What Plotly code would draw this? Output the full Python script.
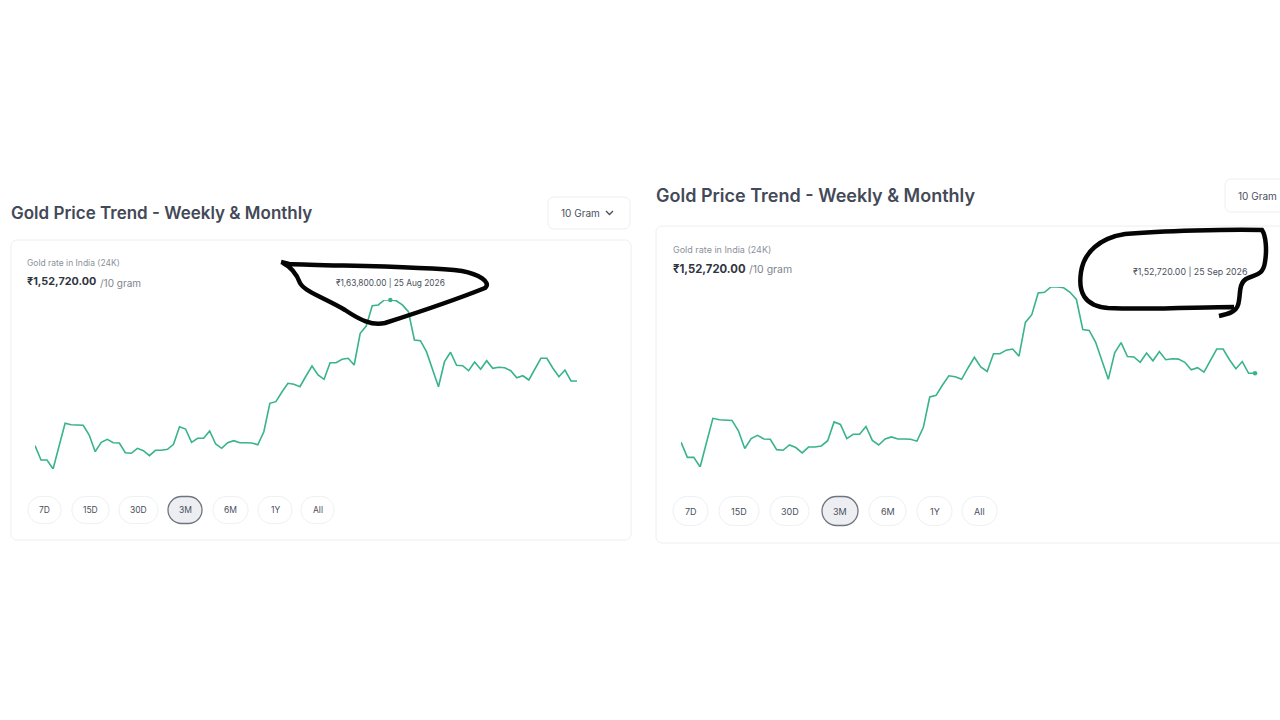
import plotly.graph_objects as go
import pandas as pd

W, H = 1280, 720

# ---- data (daily 24K gold rate, INR per 10 gram) ----
end_date = "2026-09-25"
prices = [143870, 141910, 141910, 140680, 143830, 146930, 146740, 146700, 146660, 145330,
          143050, 144330, 144740, 144280, 144240, 142910, 142830, 143510, 143180, 142500,
          143240, 143240, 143380, 144060, 146470, 146150, 144330, 144880, 144880, 145880,
          144100, 143510, 144280, 144550, 144280, 144270, 144240, 144000, 145780, 149670,
          149890, 151210, 152400, 152270, 151940, 153400, 154770, 153540, 152950, 155220,
          155220, 155690, 155830, 154910, 159250, 160240, 163020, 163120, 163800, 163800,
          163700, 163120, 162200, 158330, 158230, 156730, 154220, 151940, 155360, 156650,
          154870, 154810, 154130, 155320, 154320, 155500, 154460, 154590, 154540, 154130,
          153170, 153440, 152860, 154320, 155830, 155830, 154460, 153310, 154220, 152720,
          152720]
dates = list(pd.date_range(end=end_date, periods=len(prices), freq="D"))
hover_left = pd.Timestamp("2026-08-25")
hover_right = pd.Timestamp(end_date)
range_buttons = ["7D", "15D", "30D", "3M", "6M", "1Y", "All"]
selected_range = "3M"
title_text = "Gold Price Trend - Weekly & Monthly"
subtitle_text = "Gold rate in India (24K)"
unit_text = "/10 gram"
dropdown_text = "10 Gram"

LINE = "#38b38d"
FONT = "Inter"


def inr(v):
    s = f"{v:.2f}"
    whole, frac = s.split(".")
    last3, rest = whole[-3:], whole[:-3]
    groups = []
    while len(rest) > 2:
        groups.insert(0, rest[-2:])
        rest = rest[:-2]
    if rest:
        groups.insert(0, rest)
    return ",".join(groups + [last3]) + "." + frac


def px(x):
    return x / W


def py(y):
    return 1 - y / H


def rrect(x0, y0, x1, y1, r):
    k = 0.5523 * r
    pts = [
        f"M{px(x0 + r)},{py(y0)}", f"L{px(x1 - r)},{py(y0)}",
        f"C{px(x1 - r + k)},{py(y0)} {px(x1)},{py(y0 + r - k)} {px(x1)},{py(y0 + r)}",
        f"L{px(x1)},{py(y1 - r)}",
        f"C{px(x1)},{py(y1 - r + k)} {px(x1 - r + k)},{py(y1)} {px(x1 - r)},{py(y1)}",
        f"L{px(x0 + r)},{py(y1)}",
        f"C{px(x0 + r - k)},{py(y1)} {px(x0)},{py(y1 - r + k)} {px(x0)},{py(y1 - r)}",
        f"L{px(x0)},{py(y0 + r)}",
        f"C{px(x0)},{py(y0 + r - k)} {px(x0 + r - k)},{py(y0)} {px(x0 + r)},{py(y0)}", "Z",
    ]
    return " ".join(pts)


def path_px(cmds):
    out = []
    for c in cmds:
        op, *pts = c
        out.append(op + " ".join(f"{px(a)},{py(b)}" for a, b in pts))
    return " ".join(out)


shapes = []
annotations = []


def add_rect(x0, y0, x1, y1, r, line="#eceef1", fill="white", width=1):
    shapes.append(dict(type="path", path=rrect(x0, y0, x1, y1, r), xref="paper", yref="paper",
                       line=dict(color=line, width=width), fillcolor=fill, layer="below"))


def add_text(x, y, text, size, color, weight="normal", xanchor="left", xref="paper"):
    annotations.append(dict(x=x if xref != "paper" else px(x), y=py(y), xref=xref, yref="paper",
                            text=text, showarrow=False, xanchor=xanchor, yanchor="middle",
                            xshift=-2 if xanchor == "left" else 0,
                            font=dict(family=FONT, size=size, color=color, weight=weight)))


fig = go.Figure()

panels = [
    dict(xa="x", ya="y", xd=(35, 577), yd=(300, 469), hover=hover_left, title=(11, 213, 17),
         dd=(548, 197, 630, 229), card=(11, 240, 631, 540), sub=(27, 263, 8.5), price=(27, 282, 10.8),
         unit_x=100, unit_size=10, label_y=283, label_size=8.3, cross=(290, 476), label_anchor="center",
         pills=[(28, 61), (72, 109), (119, 158), (168, 202), (213, 248), (258, 292), (301, 334)],
         pill_y=510, pill_h=27, pill_font=8.5),
    dict(xa="x2", ya="y2", xd=(681, 1255), yd=(287, 467), hover=hover_right, title=(656, 196, 18),
         dd=(1225, 179, 1300, 212), card=(656, 226, 1300, 543), sub=(673, 249, 9), price=(673, 269, 11.3),
         unit_x=749, unit_size=10.5, label_y=271, label_size=8.8, cross=(279, 476), label_anchor="right",
         pills=[(673, 708), (719, 759), (770, 809), (822, 858), (869, 906), (917, 952), (962, 997)],
         pill_y=511, pill_h=29, pill_font=9),
]

layout_axes = {}
for i, p in enumerate(panels):
    xname = "xaxis" if i == 0 else f"xaxis{i + 1}"
    yname = "yaxis" if i == 0 else f"yaxis{i + 1}"
    layout_axes[xname] = dict(domain=[px(p["xd"][0]), px(p["xd"][1])], range=[dates[0], dates[-1]],
                              visible=False, anchor=p["ya"], fixedrange=True)
    layout_axes[yname] = dict(domain=[py(p["yd"][1]), py(p["yd"][0])], range=[min(prices), max(prices)],
                              visible=False, anchor=p["xa"], fixedrange=True)

    fig.add_trace(go.Scatter(x=dates, y=prices, mode="lines", xaxis=p["xa"], yaxis=p["ya"],
                             line=dict(color=LINE, width=1.6), hoverinfo="skip", showlegend=False,
                             cliponaxis=False))
    hv = prices[dates.index(p["hover"])]
    fig.add_trace(go.Scatter(x=[p["hover"]], y=[hv], mode="markers", xaxis=p["xa"], yaxis=p["ya"],
                             marker=dict(color=LINE, size=4.5), hoverinfo="skip", showlegend=False,
                             cliponaxis=False))
    # crosshair
    shapes.append(dict(type="line", xref=p["xa"], yref="paper", x0=p["hover"], x1=p["hover"],
                       y0=py(p["cross"][1]), y1=py(p["cross"][0]),
                       line=dict(color="#e7e9ed", width=1), layer="below"))
    # hover label
    label = f"₹{inr(hv)} | {p['hover'].strftime('%d %b %Y')}"
    annotations.append(dict(x=p["hover"], y=py(p["label_y"]), xref=p["xa"], yref="paper", text=label,
                            showarrow=False, xanchor=p["label_anchor"], yanchor="middle",
                            xshift=-6 if p["label_anchor"] == "right" else 0,
                            font=dict(family=FONT, size=p["label_size"], color="#4a505c")))
    # card & header
    cx0, cy0, cx1, cy1 = p["card"]
    add_rect(cx0, cy0, cx1, cy1, 6, line="#eceef1")
    tx, ty, ts = p["title"]
    add_text(tx, ty, title_text, ts, "#434957", weight=600)
    dx0, dy0, dx1, dy1 = p["dd"]
    add_rect(dx0, dy0, dx1, dy1, 6, line="#eceef1")
    add_text(dx0 + 13, (dy0 + dy1) / 2, dropdown_text, 10, "#4a505c")
    chx = dx0 + 58
    chy = (dy0 + dy1) / 2
    shapes.append(dict(type="path", xref="paper", yref="paper",
                       path=path_px([("M", (chx, chy - 2)), ("L", (chx + 3.5, chy + 1.5)), ("L", (chx + 7, chy - 2))]),
                       line=dict(color="#4a505c", width=1.4)))
    sx, sy, ss = p["sub"]
    add_text(sx, sy, subtitle_text, ss, "#8c919a")
    prx, pry, prs = p["price"]
    add_text(prx, pry, f"₹{inr(prices[-1])}", prs, "#30353f", weight=700)
    add_text(p["unit_x"], pry + 0.5, unit_text, p["unit_size"], "#80858e")
    # range pills
    for lab, (bx0, bx1) in zip(range_buttons, p["pills"]):
        h = p["pill_h"]
        y0 = p["pill_y"] - h / 2
        sel = lab == selected_range
        add_rect(bx0, y0, bx1, y0 + h, h / 2,
                 line="#6f7580" if sel else "#eef0f2", fill="#eceef1" if sel else "white",
                 width=1.3 if sel else 1)
        add_text((bx0 + bx1) / 2, p["pill_y"], lab, p["pill_font"], "#4a505c", xanchor="center")

# ---- hand-drawn annotation marks ----
left_scribble = [("M", (281, 262)), ("L", (289, 264)),
                 ("C", (330, 266), (420, 266), (462, 271)),
                 ("C", (478, 274), (492, 282), (485, 288)),
                 ("C", (460, 298), (410, 315), (385, 323)),
                 ("C", (372, 326), (360, 320), (345, 310)),
                 ("C", (325, 298), (305, 292), (300, 283)),
                 ("C", (297, 275), (293, 268), (283, 263))]
right_scribble = [("M", (1219, 316)),
                  ("C", (1228, 314), (1236, 312), (1238, 305)),
                  ("C", (1241, 296), (1238, 284), (1246, 279)),
                  ("C", (1255, 274), (1263, 276), (1265, 262)),
                  ("C", (1267, 250), (1266, 236), (1262, 230)),
                  ("C", (1230, 229), (1160, 231), (1125, 234)),
                  ("C", (1100, 238), (1084, 252), (1081, 272)),
                  ("C", (1078, 292), (1084, 306), (1108, 308)),
                  ("C", (1150, 310), (1200, 307), (1234, 307))]
for s in (left_scribble, right_scribble):
    shapes.append(dict(type="path", xref="paper", yref="paper", path=path_px(s),
                       line=dict(color="#050505", width=4.5), layer="above"))

fig.update_layout(
    width=W, height=H, autosize=False,
    margin=dict(l=0, r=0, t=0, b=0),
    paper_bgcolor="white", plot_bgcolor="rgba(0,0,0,0)",
    shapes=shapes, annotations=annotations,
    showlegend=False, hovermode=False,
    **layout_axes,
)

fig.write_html("out.html", config={"displayModeBar": False},
               post_script="document.body.style.margin='0px';document.body.style.overflow='hidden';")
